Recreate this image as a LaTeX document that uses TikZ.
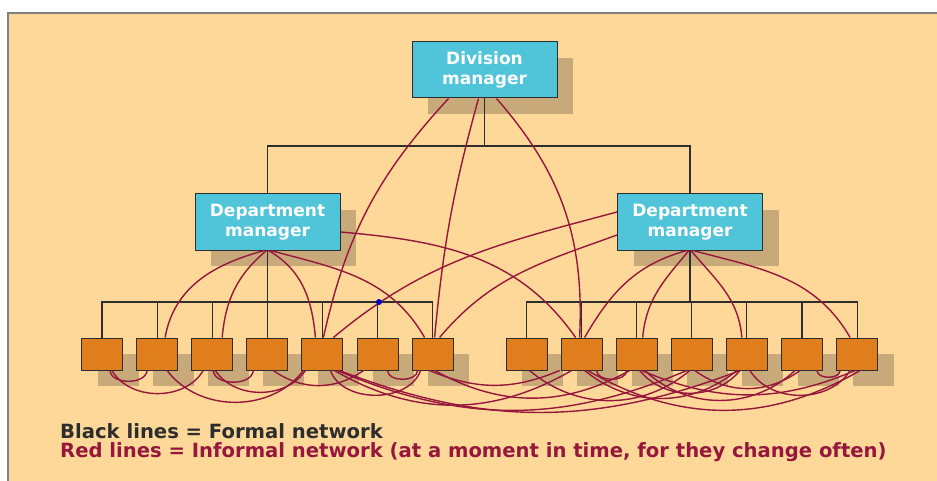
\documentclass[tikz,border=0pt]{standalone}
\usepackage{fontspec}
\setmainfont{DejaVu Sans}
\usetikzlibrary{positioning,shadows}

\definecolor{peach}{RGB}{253,216,152}
\definecolor{shadowtan}{RGB}{200,170,122}
\definecolor{boxcyan}{RGB}{80,196,216}
\definecolor{boxorange}{RGB}{224,126,30}
\definecolor{infred}{RGB}{150,22,60}
\definecolor{frmgray}{RGB}{45,45,45}

\tikzset{
  boxshadow/.style={drop shadow={shadow xshift=16pt,shadow yshift=-16pt,fill=shadowtan,opacity=1}},
  mgr/.style={draw=frmgray, line width=1pt, fill=boxcyan, text=white, align=center,
    font=\bfseries\fontsize{17}{20}\selectfont, minimum width=145pt, minimum height=56pt,
    inner sep=0pt, boxshadow},
  worker/.style={draw=frmgray, line width=1pt, fill=boxorange, minimum width=41pt,
    minimum height=32pt, inner sep=0pt, boxshadow},
  fline/.style={draw=frmgray, line width=1.1pt},
  iline/.style={draw=infred, line width=1.4pt},
  legend/.style={font=\bfseries\fontsize{19.6}{20}\selectfont, inner sep=0pt, anchor=base west}
}

\begin{document}
\begin{tikzpicture}[x=1pt,y=-1pt]
\useasboundingbox (0,0) rectangle (937,481);
\fill[peach] (8,13) rectangle (937,481);
\draw[gray, line width=1.5pt] (8,481) -- (8,13) -- (937,13);

% managers
\node[mgr] (div) at (484.5,70) {Division\\manager};
\node[mgr] (ldept) at (267.5,222) {Department\\manager};
\node[mgr] (rdept) at (690,222) {Department\\manager};

% workers
\foreach \i in {1,...,7}{
  \node[worker] (l\i) at ({102+55.1*(\i-1)},354) {};
  \node[worker] (r\i) at ({526.5+55.1*(\i-1)},354) {};
}

% formal network
\coordinate (topbar) at (484.5,146);
\coordinate (lbar) at (267.5,302);
\coordinate (rbar) at (690,302);
\draw[fline] (div.south) -- (topbar);
\draw[fline] (ldept.north) |- (topbar) -| (rdept.north);
\draw[fline] (ldept.south) -- (lbar);
\draw[fline] (rdept.south) -- (rbar);
\foreach \i in {1,...,7}{
  \draw[fline] (l\i.north) |- (lbar);
  \draw[fline] (r\i.north) |- (rbar);
}

% informal network, upper
\draw[iline] ([xshift=-36pt]div.south) to[bend right=15] ([xshift=1pt]l5.north);
\draw[iline] ([xshift=-6pt]div.south) to[bend right=5] ([xshift=2pt]l7.north);
\draw[iline] ([xshift=12pt]div.south) to[bend left=22] ([xshift=-2pt]r2.north);
\draw[iline] ([xshift=-3pt]ldept.south) to[out=195,in=80] ([xshift=8pt]l2.north);
\draw[iline] ([xshift=-1pt]ldept.south) to[out=220,in=85] ([xshift=10pt]l3.north);
\draw[iline] ([xshift=1pt]ldept.south) to[out=-30,in=95] ([xshift=-7pt]l5.north);
\draw[iline] ([xshift=3pt]ldept.south) to[out=-15,in=120] ([xshift=-8pt]l7.north);
\draw[iline] ([yshift=-10pt]ldept.east) to[out=-5,in=125] ([xshift=-6pt]r2.north);
\draw[iline] ([yshift=10pt]rdept.west) to[out=195,in=40] ([xshift=11pt]l5.north);
\draw[iline] ([yshift=-13pt]rdept.west) to[out=200,in=50] ([xshift=7pt]l7.north);
\draw[iline] ([xshift=-3pt]rdept.south) to[out=195,in=60] ([xshift=3pt]r2.north);
\draw[iline] ([xshift=-1pt]rdept.south) to[out=230,in=85] ([xshift=6pt]r3.north);
\draw[iline] ([xshift=1pt]rdept.south) to[out=-50,in=95] ([xshift=-5pt]r5.north);
\draw[iline] ([xshift=3pt]rdept.south) to[out=-15,in=120] ([xshift=-7pt]r7.north);

% informal network, lower
\foreach \a/\sa/\b/\sb/\ang in {l1/8/l2/-10/85, l1/10/l3/-9/60, l2/10/l5/-19/53,
    l3/1/l4/-14/85, l3/3/l5/-17/56, l4/6/l6/-14/35, l5/8/l7/-12/70, l6/10/l7/-15/88,
    l5/12/r2/-10/30, l5/15/r4/-5/23, l5/17/r5/-7/21, l7/-3/r2/-22/23, l7/2/r3/-7/29,
    r1/3/r4/-2/40, r2/15/r3/-10/88, r2/3/r5/-10/39, r3/3/r5/-7/51, r3/8/r6/-7/43,
    r4/3/r6/-2/36, r5/3/r7/-7/58, r6/15/r7/-17/88, r2/6/r7/3/30, r3/5/r7/-2/23}
  \draw[iline] ([xshift=\sa pt]\a.south) to[out=-\ang,in=-180+\ang] ([xshift=\sb pt]\b.south);

\node[circle, fill=blue!80!black, inner sep=0pt, minimum size=6pt] (meet) at (379,302) {};

% legend
\node[legend, text=frmgray] (legblack) at (60,438) {Black lines = Formal network};
\node[legend, text=infred] (legred) at ([yshift=-19pt]legblack.base west)
  {Red lines = Informal network (at a moment in time, for they change often)};
\end{tikzpicture}
\end{document}
